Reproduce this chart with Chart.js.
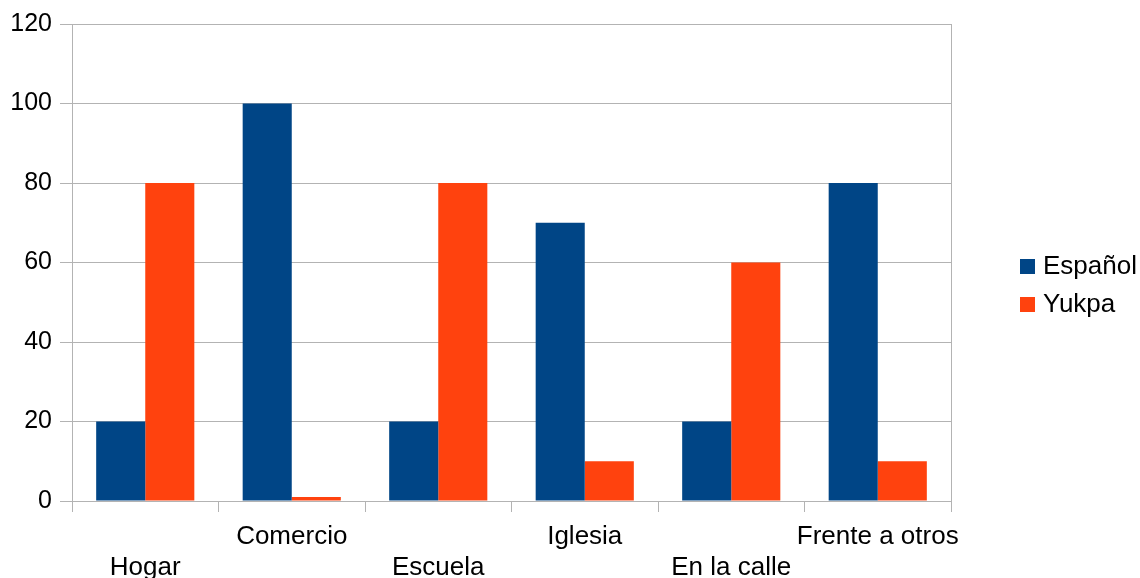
<!DOCTYPE html>
<html>
<head>
<meta charset="utf-8">
<script src="https://cdn.jsdelivr.net/npm/chart.js@4/dist/chart.umd.min.js"></script>
<style>
  html, body { margin: 0; padding: 0; background: #fff; }
  #wrap { width: 1140px; height: 578px; }
</style>
</head>
<body>
<div id="wrap"><canvas id="c" width="1140" height="578"></canvas></div>
<script>
// Lugares donde se usa cada lengua
const categories = ['Hogar', 'Comercio', 'Escuela', 'Iglesia', 'En la calle', 'Frente a otros'];
const espanol = [20, 100, 20, 70, 20, 80];
const yukpa = [80, 1, 80, 10, 60, 10];
const seriesNames = ['Español', 'Yukpa'];
const yTicks = [0, 20, 40, 60, 80, 100, 120];

const FAMILY = '"Liberation Sans", Arial, sans-serif';
const Y_FONT = { family: FAMILY, size: 25 };
const X_FONT = { family: FAMILY, size: 26, lineHeight: 1.2 };
const LEGEND_SIZE = 26;
const GRID = '#b3b3b3';

// Leyenda a la derecha, dibujada a partir de los datasets
const sideLegend = {
  id: 'sideLegend',
  afterDraw(chart) {
    const ctx = chart.ctx;
    const area = chart.chartArea;
    ctx.save();
    ctx.font = LEGEND_SIZE + 'px ' + FAMILY;
    ctx.textBaseline = 'middle';
    ctx.textAlign = 'left';
    chart.data.datasets.forEach((ds, i) => {
      const cy = area.top + 242 + i * 38;
      const bx = area.right + 69;
      ctx.fillStyle = ds.backgroundColor;
      ctx.fillRect(bx, cy - 7, 15, 15);
      ctx.fillStyle = '#000';
      ctx.fillText(ds.label, bx + 23, cy + 1);
    });
    ctx.restore();
  }
};

new Chart(document.getElementById('c'), {
  type: 'bar',
  data: {
    labels: categories,
    datasets: [
      { label: seriesNames[0], data: espanol, backgroundColor: '#004586' },
      { label: seriesNames[1], data: yukpa, backgroundColor: '#ff420e' }
    ]
  },
  options: {
    responsive: false,
    animation: false,
    devicePixelRatio: 1,
    layout: { padding: { top: 24, right: 189, bottom: 0, left: 0 } },
    datasets: { bar: { categoryPercentage: 0.67, barPercentage: 1.0 } },
    plugins: { legend: { display: false }, tooltip: { enabled: false } },
    scales: {
      x: {
        offset: true,
        grid: { offset: true, drawOnChartArea: false, color: GRID, tickLength: 11, lineWidth: 1 },
        border: { display: false },
        ticks: {
          autoSkip: false, maxRotation: 0, minRotation: 0, padding: 9,
          color: '#000', font: X_FONT,
          callback: function (v, i) {
            const lbl = categories[i];
            return i % 2 === 0 ? ['', lbl] : lbl;
          }
        },
        afterFit(s) { s.height = 77; }
      },
      y: {
        min: 0, max: 120,
        afterBuildTicks(s) { s.ticks = yTicks.map(v => ({ value: v })); },
        grid: { color: GRID, tickLength: 12, lineWidth: 1 },
        border: { display: true, color: GRID },
        ticks: { padding: 8, color: '#000', font: Y_FONT },
        afterFit(s) { s.width = 72; }
      },
      y2: {
        position: 'right',
        min: 0, max: 120,
        grid: { display: false, drawTicks: false },
        border: { display: true, color: GRID },
        ticks: { display: false },
        afterFit(s) { s.width = 0; }
      }
    }
  },
  plugins: [sideLegend]
});
</script>
</body>
</html>
